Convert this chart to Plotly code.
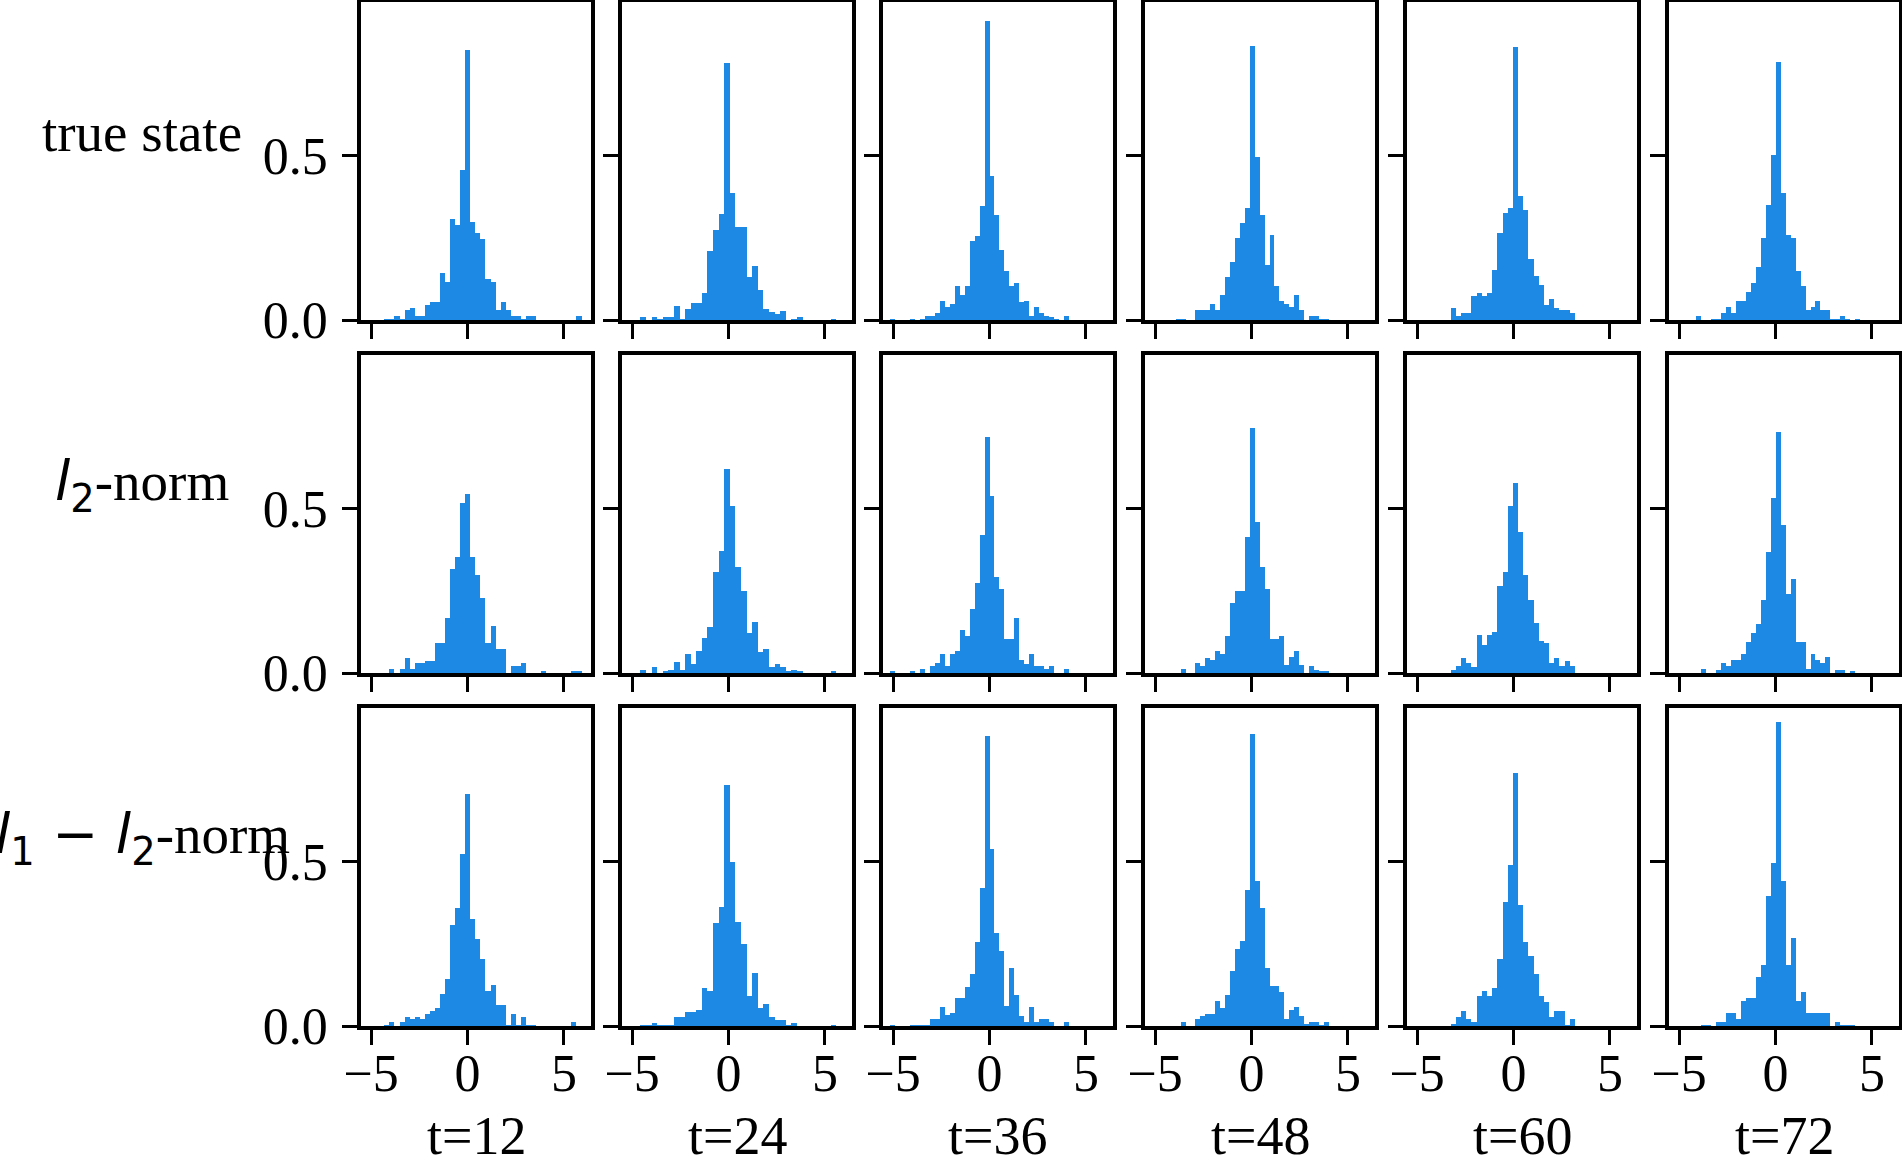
import plotly.graph_objects as go

# Etiquetas de columnas y filas
tiempos = ["t=12", "t=24", "t=36", "t=48", "t=60", "t=72"]
filas = [
    "true state",
    "<span style='font-family:DejaVu Sans'><i>l</i><sub>2</sub></span>-norm",
    "<span style='font-family:DejaVu Sans'><i>l</i><sub>1</sub> − <i>l</i><sub>2</sub></span>-norm",
]

# Bordes de bins por columna (inicio y ancho)
bin_inicio = [-4.31, -4.57, -5.14, -3.93, -3.25, -4.12]
bin_ancho = [0.262, 0.29, 0.257, 0.256, 0.268, 0.258]

# Densidades: una lista por tiempo
true_state = [
    [0.003, 0.003, 0.012, 0.003, 0.03, 0.036, 0.012, 0.012, 0.046, 0.055, 0.055, 0.142, 0.116, 0.307, 0.288,
     0.456, 0.821, 0.298, 0.265, 0.246, 0.125, 0.116, 0.03, 0.055, 0.03, 0.012, 0.012, 0.003, 0.012, 0.012,
     0, 0, 0, 0, 0, 0, 0, 0, 0.012],
    [0.009, 0, 0.009, 0.003, 0.009, 0.009, 0.043, 0.003, 0.033, 0.052, 0.052, 0.082, 0.21, 0.274, 0.322,
     0.783, 0.386, 0.283, 0.283, 0.131, 0.164, 0.091, 0.033, 0.024, 0.018, 0.027, 0, 0.003, 0.009,
     0, 0, 0, 0, 0, 0.003],
    [0.003, 0, 0, 0, 0.003, 0, 0.003, 0.012, 0.012, 0.021, 0.058, 0.04, 0.049, 0.103, 0.076, 0.103, 0.24,
     0.256, 0.347, 0.91, 0.438, 0.319, 0.213, 0.149, 0.103, 0.113, 0.055, 0.058, 0.012, 0.04, 0.021, 0.012,
     0.009, 0.003, 0, 0.012],
    [0.003, 0.003, 0, 0, 0.03, 0.03, 0.03, 0.049, 0.03, 0.076, 0.131, 0.176, 0.25, 0.295, 0.341, 0.834,
     0.496, 0.319, 0.167, 0.259, 0.103, 0.058, 0.049, 0.04, 0.076, 0.03, 0, 0.012, 0.012, 0.003, 0.003],
    [0.036, 0.012, 0.021, 0.021, 0.073, 0.082, 0.073, 0.082, 0.152, 0.265, 0.326, 0.341, 0.831, 0.377,
     0.335, 0.186, 0.134, 0.106, 0.046, 0.064, 0.036, 0.03, 0.03, 0.021],
    [0.012, 0, 0, 0.003, 0.003, 0.021, 0.04, 0.021, 0.058, 0.058, 0.085, 0.113, 0.161, 0.25, 0.35, 0.502,
     0.785, 0.386, 0.259, 0.25, 0.149, 0.103, 0.03, 0.04, 0.058, 0.03, 0.03, 0.003, 0.003, 0.012, 0.003,
     0, 0.003],
]

l2_norm = [
    [0, 0.013, 0, 0.013, 0.047, 0.013, 0.031, 0.031, 0.037, 0.037, 0.092, 0.092, 0.168, 0.317, 0.353,
     0.517, 0.545, 0.353, 0.299, 0.229, 0.092, 0.144, 0.074, 0.074, 0, 0.022, 0.022, 0.031, 0, 0, 0,
     0.004, 0, 0, 0, 0, 0, 0.004, 0.004],
    [0.01, 0, 0.019, 0, 0.004, 0.01, 0.034, 0.01, 0.059, 0.028, 0.068, 0.107, 0.141, 0.308, 0.371, 0.62,
     0.509, 0.323, 0.25, 0.122, 0.156, 0.065, 0.074, 0.019, 0.028, 0.019, 0.004, 0.01, 0.004,
     0, 0, 0, 0, 0, 0.004],
    [0.004, 0, 0, 0, 0.004, 0, 0.013, 0, 0.022, 0.031, 0.059, 0.022, 0.059, 0.068, 0.132, 0.113, 0.195,
     0.274, 0.42, 0.718, 0.538, 0.293, 0.256, 0.104, 0.104, 0.168, 0.04, 0.028, 0.059, 0.022, 0.022,
     0.013, 0.022, 0, 0, 0.013],
    [0, 0.013, 0, 0, 0.031, 0.022, 0.047, 0.04, 0.068, 0.059, 0.113, 0.214, 0.25, 0.25, 0.414, 0.745,
     0.46, 0.323, 0.256, 0.104, 0.104, 0.113, 0.025, 0.05, 0.068, 0.025, 0, 0.022, 0.01, 0.004, 0.004],
    [0.01, 0.022, 0.047, 0.031, 0.019, 0.116, 0.086, 0.116, 0.126, 0.265, 0.308, 0.508, 0.578, 0.429,
     0.299, 0.223, 0.153, 0.098, 0.092, 0.031, 0.047, 0.022, 0.037, 0.022],
    [0, 0.013, 0, 0, 0.01, 0.031, 0.022, 0.04, 0.04, 0.059, 0.095, 0.122, 0.15, 0.223, 0.368, 0.532,
     0.733, 0.45, 0.241, 0.286, 0.095, 0.095, 0.013, 0.059, 0.04, 0.031, 0.05, 0, 0.01, 0.01, 0, 0.004],
]

l1_l2_norm = [
    [0.003, 0.012, 0, 0.012, 0.027, 0.021, 0.027, 0.021, 0.037, 0.046, 0.055, 0.098, 0.143, 0.308, 0.36,
     0.524, 0.707, 0.326, 0.265, 0.204, 0.107, 0.125, 0.064, 0.064, 0.003, 0.037, 0.003, 0.027, 0.003,
     0.003, 0, 0, 0, 0, 0, 0, 0, 0.012],
    [0.003, 0.003, 0.009, 0.003, 0.003, 0.003, 0.027, 0.027, 0.043, 0.043, 0.049, 0.116, 0.107, 0.314,
     0.363, 0.735, 0.5, 0.317, 0.25, 0.091, 0.162, 0.055, 0.067, 0.027, 0.018, 0.018, 0.003, 0.009,
     0, 0, 0, 0, 0, 0, 0.003],
    [0.003, 0, 0, 0, 0.003, 0.003, 0.003, 0.003, 0.021, 0.021, 0.058, 0.034, 0.04, 0.085, 0.085, 0.119,
     0.159, 0.256, 0.421, 0.884, 0.54, 0.284, 0.229, 0.06, 0.177, 0.095, 0.03, 0.012, 0.058, 0.012, 0.021,
     0.021, 0.012, 0, 0, 0.012],
    [0, 0.012, 0, 0, 0.021, 0.03, 0.037, 0.037, 0.076, 0.055, 0.095, 0.168, 0.235, 0.259, 0.415, 0.89,
     0.442, 0.36, 0.177, 0.122, 0.122, 0.104, 0.021, 0.049, 0.058, 0.03, 0.006, 0.012, 0.012, 0.003, 0.012],
    [0.006, 0.027, 0.046, 0.021, 0.012, 0.091, 0.107, 0.091, 0.116, 0.204, 0.378, 0.491, 0.771, 0.369,
     0.256, 0.213, 0.159, 0.091, 0.073, 0.027, 0.046, 0.046, 0.003, 0.021],
    [0, 0.003, 0.003, 0, 0.012, 0.012, 0.04, 0.04, 0.021, 0.076, 0.085, 0.085, 0.149, 0.186, 0.396, 0.497,
     0.924, 0.442, 0.186, 0.268, 0.076, 0.104, 0.04, 0.04, 0.04, 0.04, 0.04, 0, 0.012, 0.003, 0.003, 0.003],
]

datos = [true_state, l2_norm, l1_l2_norm]

# Geometría de la figura (px)
W, H = 1902, 1162
col_x0 = [361, 622, 883, 1145, 1407, 1669]
fila_y0 = [2, 355, 708]
ancho_panel, alto_panel = 230, 318
fuente = "Liberation Serif, Times New Roman, serif"
color_barra = "#1E88E5"

fig = go.Figure()
layout = {}

for r in range(3):
    for c in range(6):
        k = r * 6 + c + 1
        alturas = datos[r][c]
        centros = [bin_inicio[c] + bin_ancho[c] * (i + 0.5) for i in range(len(alturas))]
        fig.add_trace(go.Bar(
            x=centros, y=alturas, width=bin_ancho[c],
            marker=dict(color=color_barra, line=dict(width=0)),
            xaxis=f"x{k}", yaxis=f"y{k}", showlegend=False,
        ))
        sfx = "" if k == 1 else str(k)
        x0 = col_x0[c] / W
        x1 = (col_x0[c] + ancho_panel) / W
        y1 = 1 - fila_y0[r] / H
        y0 = 1 - (fila_y0[r] + alto_panel) / H
        comun = dict(showline=True, mirror=True, linecolor="black", linewidth=3.5,
                     ticks="outside", ticklen=15, tickwidth=3, tickcolor="black",
                     showgrid=False, zeroline=False, fixedrange=True, automargin=False,
                     tickfont=dict(family=fuente, size=52, color="black"))
        layout[f"xaxis{sfx}"] = dict(domain=[x0, x1], anchor=f"y{k}", range=[-5.52, 6.40],
                                     tickvals=[-5, 0, 5], showticklabels=(r == 2),
                                     ticklabelstandoff=-16, **comun)
        layout[f"yaxis{sfx}"] = dict(domain=[y0, y1], anchor=f"x{k}", range=[0, 0.968],
                                     tickvals=[0, 0.5], ticktext=["0.0", "0.5"],
                                     showticklabels=(c == 0), ticklabelstandoff=4, **comun)

anotaciones = []
for c, t in enumerate(tiempos):
    anotaciones.append(dict(text=t, x=(col_x0[c] + ancho_panel / 2) / W, y=1 - 1136 / H,
                            xref="paper", yref="paper", xanchor="center", yanchor="middle",
                            showarrow=False, font=dict(family=fuente, size=54, color="black")))
for r, nombre in enumerate(filas):
    anotaciones.append(dict(text=nombre, x=142 / W, y=1 - (fila_y0[r] + alto_panel / 2 - 29) / H,
                            xref="paper", yref="paper", xanchor="center", yanchor="middle",
                            showarrow=False, font=dict(family=fuente, size=55, color="black")))

fig.update_layout(
    width=W, height=H, margin=dict(l=0, r=0, t=0, b=0, autoexpand=False),
    paper_bgcolor="white", plot_bgcolor="white",
    bargap=0, annotations=anotaciones,
    font=dict(family=fuente, size=52, color="black"),
    **layout,
)

# sin margen del body para que la figura ocupe la ventana exacta
fig.write_html("out.html", config={"displayModeBar": False},
               post_script="document.body.style.margin='0';document.body.style.overflow='hidden';")
